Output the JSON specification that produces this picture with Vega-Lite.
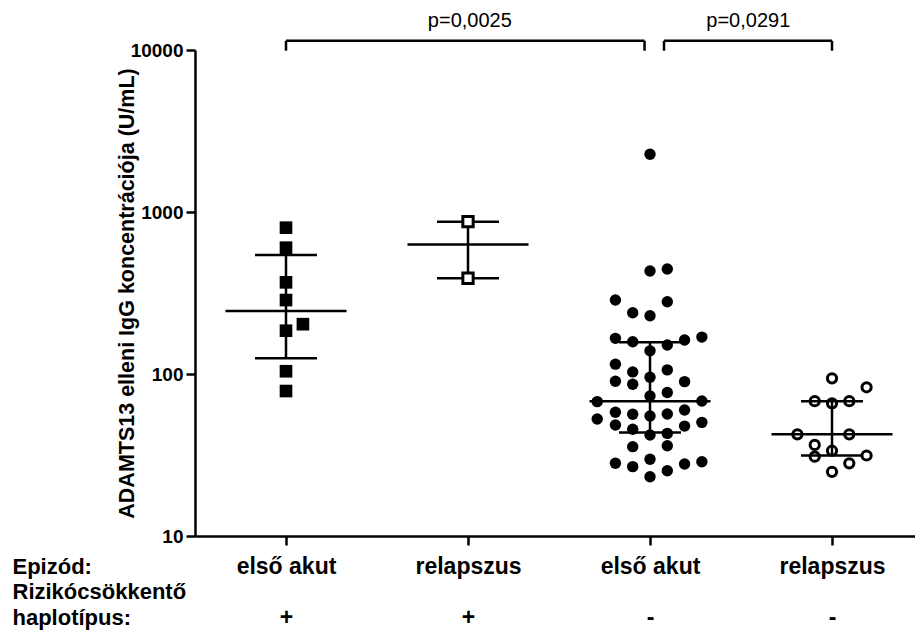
{
  "$schema": "https://vega.github.io/schema/vega-lite/v6.json",
  "width": 720,
  "height": 486,
  "autosize": {"type": "none"},
  "padding": {"left": 195, "top": 50, "right": 0, "bottom": 101},
  "background": "white",
  "config": {
    "view": {"stroke": null},
    "font": "Liberation Sans",
    "axis": {"grid": false}
  },
  "datasets": {
    "points": [
      {"group": 1, "x": 1.0, "v": 800},
      {"group": 1, "x": 1.0, "v": 602},
      {"group": 1, "x": 1.0, "v": 368},
      {"group": 1, "x": 1.0, "v": 286},
      {"group": 1, "x": 1.093, "v": 203},
      {"group": 1, "x": 1.0, "v": 185},
      {"group": 1, "x": 1.0, "v": 104},
      {"group": 1, "x": 1.0, "v": 78.5},
      {"group": 2, "x": 2.0, "v": 871},
      {"group": 2, "x": 2.0, "v": 390},
      {"group": 3, "x": 2.71, "v": 67.5},
      {"group": 3, "x": 2.71, "v": 52.7},
      {"group": 3, "x": 2.81, "v": 286},
      {"group": 3, "x": 2.81, "v": 166},
      {"group": 3, "x": 2.81, "v": 115},
      {"group": 3, "x": 2.81, "v": 90.2},
      {"group": 3, "x": 2.81, "v": 58},
      {"group": 3, "x": 2.81, "v": 48.4},
      {"group": 3, "x": 2.81, "v": 28.1},
      {"group": 3, "x": 2.905, "v": 239},
      {"group": 3, "x": 2.905, "v": 158},
      {"group": 3, "x": 2.905, "v": 103},
      {"group": 3, "x": 2.905, "v": 86.4},
      {"group": 3, "x": 2.905, "v": 56.4},
      {"group": 3, "x": 2.905, "v": 45.6},
      {"group": 3, "x": 2.905, "v": 35.6},
      {"group": 3, "x": 2.905, "v": 26.8},
      {"group": 3, "x": 3.0, "v": 2270},
      {"group": 3, "x": 3.0, "v": 432},
      {"group": 3, "x": 3.0, "v": 229},
      {"group": 3, "x": 3.0, "v": 139},
      {"group": 3, "x": 3.0, "v": 95.5},
      {"group": 3, "x": 3.0, "v": 73.2},
      {"group": 3, "x": 3.0, "v": 55.1},
      {"group": 3, "x": 3.0, "v": 42},
      {"group": 3, "x": 3.0, "v": 29.8},
      {"group": 3, "x": 3.0, "v": 23.2},
      {"group": 3, "x": 3.095, "v": 445},
      {"group": 3, "x": 3.095, "v": 279},
      {"group": 3, "x": 3.095, "v": 151},
      {"group": 3, "x": 3.095, "v": 106},
      {"group": 3, "x": 3.095, "v": 76.8},
      {"group": 3, "x": 3.095, "v": 56.6},
      {"group": 3, "x": 3.095, "v": 43},
      {"group": 3, "x": 3.095, "v": 36.1},
      {"group": 3, "x": 3.095, "v": 25.3},
      {"group": 3, "x": 3.19, "v": 162},
      {"group": 3, "x": 3.19, "v": 89.7},
      {"group": 3, "x": 3.19, "v": 60},
      {"group": 3, "x": 3.19, "v": 47.7},
      {"group": 3, "x": 3.19, "v": 27.8},
      {"group": 3, "x": 3.285, "v": 169},
      {"group": 3, "x": 3.285, "v": 68.1},
      {"group": 3, "x": 3.285, "v": 50.3},
      {"group": 3, "x": 3.285, "v": 28.7},
      {"group": 4, "x": 3.81, "v": 42.4},
      {"group": 4, "x": 3.905, "v": 68},
      {"group": 4, "x": 3.905, "v": 36.5},
      {"group": 4, "x": 3.905, "v": 30.9},
      {"group": 4, "x": 4.0, "v": 94},
      {"group": 4, "x": 4.0, "v": 65.9},
      {"group": 4, "x": 4.0, "v": 33.6},
      {"group": 4, "x": 4.0, "v": 24.9},
      {"group": 4, "x": 4.095, "v": 68},
      {"group": 4, "x": 4.095, "v": 42.4},
      {"group": 4, "x": 4.095, "v": 28.1},
      {"group": 4, "x": 4.19, "v": 82.8},
      {"group": 4, "x": 4.19, "v": 31.4}
    ],
    "summary": [
      {"group": 1, "x": 1, "median": 245, "q1": 125, "q3": 543},
      {"group": 2, "x": 2, "median": 630, "q1": 390, "q3": 871},
      {"group": 3, "x": 3, "median": 68, "q1": 43.6, "q3": 157},
      {"group": 4, "x": 4, "median": 42.4, "q1": 31.4, "q3": 68}
    ],
    "bracketH": [
      {"x": 1.0, "x2": 2.97, "y": 11400},
      {"x": 3.077, "x2": 4.0, "y": 11400}
    ],
    "bracketV": [
      {"x": 1.0, "y": 11400, "y2": 9900},
      {"x": 2.97, "y": 11400, "y2": 9900},
      {"x": 3.077, "y": 11400, "y2": 9900},
      {"x": 4.0, "y": 11400, "y2": 9900}
    ],
    "pvals": [
      {"x": 2.01, "y": 15200, "label": "p=0,0025"},
      {"x": 3.54, "y": 15200, "label": "p=0,0291"}
    ]
  },
  "encoding": {
    "x": {
      "type": "quantitative",
      "scale": {"domain": [0.5, 4.456], "nice": false, "zero": false},
      "axis": {
        "values": [1, 2, 3, 4],
        "labelExpr": "datum.value == 1 ? ['első akut', '+'] : datum.value == 2 ? ['relapszus', '+'] : datum.value == 3 ? ['első akut', '-'] : ['relapszus', '-']",
        "labelFont": "Liberation Sans",
        "labelFontWeight": "bold",
        "labelFontSize": 23,
        "labelColor": "black",
        "labelBaseline": "top",
        "labelLineHeight": 51,
        "labelPadding": 10,
        "labelFlush": false,
        "labelOverlap": false,
        "domainColor": "black",
        "domainWidth": 2.5,
        "tickColor": "black",
        "tickWidth": 2.5,
        "tickSize": 9,
        "title": ["Epizód:", "Rizikócsökkentő", "haplotípus:"],
        "titleFont": "Liberation Sans",
        "titleFontWeight": "bold",
        "titleFontSize": 22,
        "titleColor": "black",
        "titleLineHeight": 25.5,
        "titleX": -183,
        "titleY": 20,
        "titleAlign": "left",
        "titleAnchor": "start",
        "titleBaseline": "top"
      }
    },
    "y": {
      "type": "quantitative",
      "scale": {"type": "log", "domain": [10, 10000], "nice": false},
      "axis": {
        "values": [10, 100, 1000, 10000],
        "format": "d",
        "labelFont": "Liberation Sans",
        "labelFontWeight": "bold",
        "labelFontSize": 19,
        "labelColor": "black",
        "labelPadding": 3,
        "domainColor": "black",
        "domainWidth": 2.5,
        "tickColor": "black",
        "tickWidth": 2.5,
        "tickSize": 9,
        "title": "ADAMTS13 elleni IgG koncentrációja (U/mL)",
        "titleFont": "Liberation Sans",
        "titleFontWeight": "bold",
        "titleFontSize": 21.5,
        "titleColor": "black",
        "titleAngle": -90,
        "titleX": -68,
        "titleY": 243,
        "titleAlign": "center",
        "titleBaseline": "middle"
      }
    }
  },
  "layer": [
    {
      "data": {"name": "summary"},
      "mark": {"type": "rule", "color": "black", "strokeWidth": 2.5},
      "encoding": {"y": {"field": "q1"}, "y2": {"field": "q3"}, "x": {"field": "x"}}
    },
    {
      "data": {"name": "summary"},
      "mark": {"type": "tick", "orient": "horizontal", "size": 121, "thickness": 2.5, "color": "black", "opacity": 1},
      "encoding": {"y": {"field": "median"}, "x": {"field": "x"}}
    },
    {
      "data": {"name": "summary"},
      "mark": {"type": "tick", "orient": "horizontal", "size": 62, "thickness": 2.5, "color": "black", "opacity": 1},
      "encoding": {"y": {"field": "q1"}, "x": {"field": "x"}}
    },
    {
      "data": {"name": "summary"},
      "mark": {"type": "tick", "orient": "horizontal", "size": 62, "thickness": 2.5, "color": "black", "opacity": 1},
      "encoding": {"y": {"field": "q3"}, "x": {"field": "x"}}
    },
    {
      "data": {"name": "points"},
      "transform": [{"filter": "datum.group == 1"}],
      "mark": {"type": "point", "shape": "square", "filled": true, "size": 160, "color": "black", "opacity": 1},
      "encoding": {"y": {"field": "v"}, "x": {"field": "x"}}
    },
    {
      "data": {"name": "points"},
      "transform": [{"filter": "datum.group == 2"}],
      "mark": {"type": "point", "shape": "square", "filled": false, "size": 106, "strokeWidth": 3, "color": "black", "fill": "white", "fillOpacity": 1, "opacity": 1},
      "encoding": {"y": {"field": "v"}, "x": {"field": "x"}}
    },
    {
      "data": {"name": "points"},
      "transform": [{"filter": "datum.group == 3"}],
      "mark": {"type": "point", "shape": "circle", "filled": true, "size": 130, "color": "black", "opacity": 1},
      "encoding": {"y": {"field": "v"}, "x": {"field": "x"}}
    },
    {
      "data": {"name": "points"},
      "transform": [{"filter": "datum.group == 4"}],
      "mark": {"type": "point", "shape": "circle", "filled": false, "size": 85, "strokeWidth": 3, "color": "black", "opacity": 1},
      "encoding": {"y": {"field": "v"}, "x": {"field": "x"}}
    },
    {
      "data": {"name": "bracketH"},
      "mark": {"type": "rule", "color": "black", "strokeWidth": 2.5},
      "encoding": {"x": {"field": "x"}, "x2": {"field": "x2"}, "y": {"field": "y"}}
    },
    {
      "data": {"name": "bracketV"},
      "mark": {"type": "rule", "color": "black", "strokeWidth": 2.5},
      "encoding": {"x": {"field": "x"}, "y": {"field": "y"}, "y2": {"field": "y2"}}
    },
    {
      "data": {"name": "pvals"},
      "mark": {"type": "text", "font": "Liberation Sans", "fontSize": 20, "color": "black", "baseline": "middle", "align": "center"},
      "encoding": {"x": {"field": "x"}, "y": {"field": "y"}, "text": {"field": "label"}}
    }
  ]
}
